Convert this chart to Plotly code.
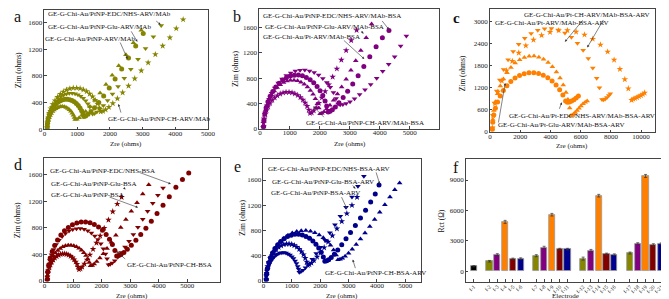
import plotly.graph_objects as go

W, H = 669, 299
FONT = "Liberation Serif"

# ---------------- Panel a (olive) ----------------
A_ARV_X = [80,85,98,116,140,170,206,247,291,340,391,444,498,553,608,661,713,762,807,848,885,916,938,990,1060,1150,1260,1390,1540,1700,1880,2070,2270,2490,2720,2960]
A_ARV_Y = [12,53,94,133,170,205,236,264,288,308,323,334,339,340,335,325,311,291,268,240,209,175,144,150,172,210,265,340,435,545,670,810,955,1120,1300,1490]
A_GLU_X = [81,87,103,127,159,199,246,299,357,420,488,557,629,701,773,842,910,974,1033,1087,1135,1176,1205,1260,1330,1420,1530,1660,1810,1980,2160,2360,2570,2790,3020]
A_GLU_Y = [16,70,124,176,225,271,313,350,382,408,428,442,449,450,443,430,411,386,355,318,277,232,190,197,222,262,322,400,500,620,755,905,1070,1250,1440]
A_EDC_X = [81,89,108,138,178,227,285,351,423,501,584,671,759,848,937,1023,1107,1186,1260,1326,1385,1436,1471,1530,1600,1690,1800,1930,2080,2250,2440,2640,2860,3090,3330,3570]
A_EDC_Y = [19,84,149,211,270,325,375,420,458,489,514,530,539,539,532,516,494,463,426,382,333,278,228,235,258,297,355,432,528,640,765,900,1050,1215,1390,1560]
A_CH_X = [81,90,114,148,195,253,322,399,484,576,674,776,880,985,1090,1191,1290,1383,1470,1548,1618,1677,1719,1790,1870,1970,2090,2230,2390,2570,2760,2960,3170,3390,3615,3835,4030,4240]
A_CH_Y = [22,97,171,242,310,373,431,482,526,562,590,609,619,619,611,593,567,531,489,438,382,319,262,270,292,330,388,460,550,650,760,880,1000,1125,1253,1377,1515,1650]

# ---------------- Panel b (purple) ----------------
B_CH_X = [111,120,142,175,220,275,340,414,495,583,677,773,873,973,1073,1169,1264,1352,1435,1510,1576,1633,1673,1730,1800,1880,1970,2070,2180,2300,2430,2570,2720,2880,3050,3230]
B_CH_Y = [20,90,160,227,290,349,403,451,492,525,552,570,579,579,571,554,530,497,457,410,357,299,245,255,285,335,405,490,590,700,820,950,1090,1240,1400,1560]
B_ARV_X = [121,132,158,197,250,315,392,480,575,679,790,904,1021,1139,1258,1372,1483,1588,1686,1774,1853,1919,1967,2011,2070,2140,2230,2340,2460,2590,2730,2880,3040,3200,3370,3550,3730]
B_ARV_Y = [27,120,213,301,385,464,535,598,653,698,732,756,768,769,758,736,704,660,607,544,474,397,326,238,245,268,310,372,452,548,660,785,925,1075,1240,1440,1660]
B_GLU_X = [121,133,163,207,268,342,431,531,640,759,885,1016,1150,1285,1420,1550,1678,1797,1909,2010,2099,2176,2230,2280,2340,2420,2520,2640,2780,2930,3100,3280,3470,3670,3880,4090,4310]
B_GLU_Y = [30,133,235,332,425,512,591,660,721,770,808,835,848,849,837,813,777,728,670,601,524,438,360,263,275,300,345,410,495,595,710,840,985,1140,1300,1440,1558]
B_EDC_X = [131,146,181,233,304,392,496,613,741,881,1029,1183,1340,1499,1657,1811,1961,2101,2232,2351,2456,2546,2610,2680,2770,2880,3010,3160,3330,3510,3700,3900,4100,4300,4500,4700,4890]
B_EDC_Y = [33,145,257,364,465,560,646,723,789,843,884,913,928,929,916,889,850,797,733,658,573,479,393,380,382,398,428,475,540,615,700,800,910,1020,1140,1310,1469]

# ---------------- Panel c (orange) ----------------
C_EDC_X = [153,181,252,356,500,675,884,1119,1378,1657,1955,2263,2579,2898,3216,3525,3825,4107,4371,4609,4820,5000,5120,5260,5400,5550,5700,5850]
C_EDC_Y = [56,250,442,626,800,963,1112,1243,1357,1450,1522,1571,1597,1598,1576,1530,1462,1371,1261,1131,986,824,790,800,825,860,905,960]
C_GLU_X = [153,182,252,357,502,678,888,1124,1384,1665,1965,2274,2592,2913,3233,3543,3845,4128,4394,4633,4845,5026,5155,5273,5344,5430,5530,5640,5760,5890,6020,6160,6300,6430]
C_GLU_Y = [72,320,566,802,1025,1234,1425,1593,1738,1857,1950,2013,2046,2048,2019,1960,1874,1757,1615,1449,1263,1056,867,633,426,440,470,515,570,630,690,750,790,823]
C_CH_X = [154,195,295,444,649,898,1196,1531,1899,2297,2721,3160,3611,4064,4518,4958,5385,5787,6163,6502,6803,7060,7242,7410,7510,7620,7740,7860,7960]
C_CH_Y = [98,437,773,1095,1400,1686,1946,2176,2374,2537,2663,2750,2794,2797,2758,2677,2559,2400,2206,1980,1725,1442,1184,865,860,880,920,975,1020]
C_ARV_X = [155,207,334,523,783,1100,1477,1903,2370,2876,3414,3972,4543,5120,5696,6253,6797,7307,7784,8214,8597,8922,9154,9367,9480,9600,9730,9860,9990,10120,10235]
C_ARV_Y = [96,429,759,1075,1375,1656,1911,2137,2332,2492,2615,2701,2745,2747,2709,2629,2514,2357,2167,1944,1694,1416,1163,850,880,900,925,950,980,1010,1047]

# ---------------- Panel d (wine) ----------------
D_BSA_X = [91,97,113,136,169,208,255,307,365,428,495,564,635,706,778,847,915,978,1037,1090,1138,1178,1207,1260,1320,1400,1490,1590,1700,1820,1950,2090,2240,2390,2550,2700]
D_BSA_Y = [14,64,113,160,205,247,285,319,348,371,390,403,409,410,404,392,375,351,323,290,253,211,173,185,212,258,320,395,480,575,680,795,920,1045,1160,1263]
D_GLU_X = [91,100,121,153,197,250,314,386,465,550,641,735,831,928,1026,1120,1211,1297,1378,1450,1515,1570,1609,1670,1740,1830,1940,2060,2190,2340,2500,2670,2850,3040,3240,3440,3650]
D_GLU_Y = [19,84,149,211,270,325,375,420,458,489,514,530,539,539,532,516,494,463,426,382,333,278,228,235,255,292,345,410,490,585,690,805,925,1050,1180,1310,1450]
D_CH_X = [101,113,143,187,247,320,408,507,616,733,858,987,1120,1254,1388,1517,1643,1762,1873,1973,2061,2137,2191,2240,2300,2370,2460,2570,2690,2820,2960,3110,3270,3440,3610,3790,3970,4150]
D_CH_Y = [28,123,218,309,395,476,549,614,670,716,751,776,788,789,778,755,722,677,623,559,487,407,334,244,252,270,305,360,430,510,600,700,810,930,1050,1170,1290,1400]
D_EDC_X = [101,115,150,201,271,356,458,573,699,835,980,1131,1285,1440,1596,1746,1893,2030,2159,2275,2378,2466,2528,2600,2680,2780,2900,3040,3200,3370,3550,3740,3940,4150,4370,4600,4830,5050]
D_EDC_Y = [31,139,246,348,445,536,619,692,755,806,846,874,888,889,877,851,813,763,701,629,548,458,376,385,400,430,478,540,615,700,795,900,1015,1140,1270,1410,1530,1625]

# ---------------- Panel e (navy) ----------------
E_GLU_X = [91,97,113,137,171,211,259,313,372,437,505,576,649,722,796,866,936,1001,1061,1116,1165,1206,1236,1263,1320,1390,1480,1590,1720,1860,2010,2170,2340,2520,2710,2910,3120,3330,3540]
E_GLU_Y = [16,70,124,176,225,271,313,350,382,408,428,442,449,450,443,430,411,386,355,318,277,232,190,139,150,172,212,270,345,435,535,645,765,890,1025,1170,1330,1500,1660]
E_BSA_X = [91,99,120,151,194,245,307,377,453,536,624,715,809,903,998,1089,1178,1261,1339,1410,1472,1525,1563,1620,1690,1780,1890,2010,2140,2280,2430,2590,2760,2940,3120,3300]
E_BSA_Y = [21,92,163,231,295,355,410,458,500,535,561,579,589,589,581,564,539,506,465,417,363,304,250,262,285,325,382,450,530,620,720,830,945,1070,1200,1330]
E_EDC_X = [101,113,142,186,245,318,404,502,609,725,848,976,1107,1239,1371,1499,1624,1741,1850,1949,2036,2111,2164,2230,2300,2390,2500,2620,2760,2910,3070,3240,3420,3600,3780,3940,4074]
E_EDC_Y = [26,115,204,289,370,445,514,575,628,670,704,727,739,739,729,707,676,634,583,523,456,381,313,320,338,372,425,492,575,668,770,880,1000,1120,1250,1380,1521]
E_CH_X = [101,116,152,205,278,367,473,592,723,865,1016,1173,1333,1495,1657,1813,1966,2109,2243,2363,2471,2562,2627,2700,2780,2880,3000,3130,3270,3420,3580,3750,3920,4100,4280,4460,4630,4800]
E_CH_Y = [28,125,221,313,400,482,556,622,678,725,761,786,798,799,788,765,731,686,630,566,493,412,338,345,360,392,440,505,580,665,760,865,975,1090,1210,1330,1445,1553]

# ---------------- Panel f (bars) ----------------
F_GROUPS = [["f-1"],
            ["f-2", "f-3", "f-4", "f-5", "f-6"],
            ["f-7", "f-8", "f-9", "f-10", "f-11"],
            ["f-12", "f-13", "f-14", "f-15", "f-16"],
            ["f-17", "f-18", "f-19", "f-20", "f-21"]]
F_RCT = [480, 970, 1620, 4860, 1200, 1230, 1520, 2330, 5570, 2170, 2170,
         1230, 2010, 7450, 1680, 1620, 1780, 2720, 9400, 2590, 2690]
F_ERR = [60, 80, 100, 150, 80, 80, 100, 120, 130, 80, 80,
         150, 130, 130, 90, 80, 100, 80, 150, 110, 90]

OLIVE, PURPLE, ORANGE, WINE, NAVY = "#858500", "#800080", "#FF8000", "#800000", "#00008C"
GROUP_COLORS = [OLIVE, PURPLE, ORANGE, WINE, NAVY]

fig = go.Figure()

def add_series(xs, ys, symbol, color, axis_id, size=5):
    fig.add_trace(go.Scatter(
        x=xs, y=ys, mode="markers",
        marker=dict(symbol=symbol, size=size, color=color, line=dict(width=0)),
        xaxis="x" + axis_id, yaxis="y" + axis_id, showlegend=False,
        hoverinfo="skip"))

# panel a
add_series(A_ARV_X, A_ARV_Y, "triangle-up", OLIVE, "")
add_series(A_GLU_X, A_GLU_Y, "circle", OLIVE, "")
add_series(A_EDC_X, A_EDC_Y, "triangle-down", OLIVE, "")
add_series(A_CH_X, A_CH_Y, "star", OLIVE, "")
# panel b
add_series(B_CH_X, B_CH_Y, "star", PURPLE, "2")
add_series(B_ARV_X, B_ARV_Y, "triangle-up", PURPLE, "2")
add_series(B_GLU_X, B_GLU_Y, "circle", PURPLE, "2")
add_series(B_EDC_X, B_EDC_Y, "triangle-down", PURPLE, "2")
# panel c
add_series(C_EDC_X, C_EDC_Y, "circle", ORANGE, "3")
add_series(C_GLU_X, C_GLU_Y, "triangle-up", ORANGE, "3")
add_series(C_CH_X, C_CH_Y, "triangle-down", ORANGE, "3")
add_series(C_ARV_X, C_ARV_Y, "star", ORANGE, "3")
# panel d
add_series(D_BSA_X, D_BSA_Y, "star", WINE, "4")
add_series(D_GLU_X, D_GLU_Y, "triangle-up", WINE, "4")
add_series(D_CH_X, D_CH_Y, "triangle-down", WINE, "4")
add_series(D_EDC_X, D_EDC_Y, "circle", WINE, "4")
# panel e
add_series(E_GLU_X, E_GLU_Y, "triangle-down", NAVY, "5")
add_series(E_BSA_X, E_BSA_Y, "star", NAVY, "5")
add_series(E_EDC_X, E_EDC_Y, "circle", NAVY, "5")
add_series(E_CH_X, E_CH_Y, "triangle-up", NAVY, "5")

# panel f bars
pos, labels, colors = [], [], []
slot = 0
for gi, grp in enumerate(F_GROUPS):
    for k, lab in enumerate(grp):
        pos.append(slot)
        labels.append(lab)
        colors.append("#000000" if gi == 0 else GROUP_COLORS[k])
        slot += 1
    slot += 1
fig.add_trace(go.Bar(
    x=pos, y=F_RCT, width=0.8,
    marker=dict(color=colors, line=dict(color="#9a9a9a", width=0.8)),
    error_y=dict(type="data", array=F_ERR, visible=True, color="#333333",
                 thickness=0.7, width=1.5),
    xaxis="x6", yaxis="y6", showlegend=False, hoverinfo="skip"))

tickfont = dict(family=FONT, size=7, color="#222")

def axis(domain, rng, tickvals, anchor, ticktext=None, tickangle=None, tfont=None, standoff=0):
    d = dict(domain=domain, range=rng, tickvals=tickvals, anchor=anchor,
             showline=True, linecolor="#444", linewidth=0.8, mirror=True,
             ticks="inside", ticklen=2.5, tickwidth=0.7, tickcolor="#444",
             tickfont=tfont or tickfont, showgrid=False, zeroline=False,
             tickformat="d", ticklabelstandoff=standoff)
    if ticktext is not None:
        d["ticktext"] = ticktext
        d.pop("tickformat")
    if tickangle is not None:
        d["tickangle"] = tickangle
    return d

def dom_x(p0, p1):
    return [p0 / W, p1 / W]

def dom_y(ptop, pbot):
    return [1 - pbot / H, 1 - ptop / H]

T5000 = [0, 1000, 2000, 3000, 4000, 5000]
T1600 = [0, 400, 800, 1200, 1600]
SO = -3

fig.update_layout(
    width=W, height=H, margin=dict(l=0, r=0, t=0, b=0),
    paper_bgcolor="white", plot_bgcolor="white",
    font=dict(family=FONT, color="#222"),
    bargap=0,
    xaxis=axis(dom_x(35, 201), [0, 5000], T5000, "y", standoff=SO),
    yaxis=axis(dom_y(2, 123), [-4, 1794], T1600, "x"),
    xaxis2=axis(dom_x(253, 436), [-23, 5997], T5000, "y2", standoff=SO),
    yaxis2=axis(dom_y(1, 122.5), [-3, 1897], T1600, "x2"),
    xaxis3=axis(dom_x(487.3, 654.5), [0, 10900], [0, 2000, 4000, 6000, 8000, 10000], "y3", standoff=SO),
    yaxis3=axis(dom_y(1, 126), [-27, 3331], [0, 600, 1200, 1800, 2400, 3000], "x3"),
    xaxis4=axis(dom_x(35, 213), [0, 6138], T5000, "y4", standoff=SO),
    yaxis4=axis(dom_y(151.7, 277.3), [-9, 1857], T1600, "x4"),
    xaxis5=axis(dom_x(257.3, 417.3), [0, 5556], T5000, "y5", standoff=SO),
    yaxis5=axis(dom_y(153.3, 277.3), [-9, 1929], T1600, "x5"),
    xaxis6=axis(dom_x(463, 667), [-1.0, 24.75], pos, "y6", ticktext=labels,
                tickangle=-45, tfont=dict(family=FONT, size=5.5, color="#222"), standoff=-1),
    yaxis6=axis(dom_y(153, 277.3), [-1040, 11080], [0, 3000, 6000, 9000], "x6"),
)

ann = []

def text(t, px, py, size=7, xanchor="left", angle=0, bold=False):
    ann.append(dict(text=("<b>%s</b>" % t) if bold else t,
                    x=px / W, y=1 - py / H, xref="paper", yref="paper",
                    xanchor=xanchor, yanchor="middle", showarrow=False,
                    textangle=angle, font=dict(family=FONT, size=size, color="#111")))

def arrow(axis_id, x, y, ax, ay):
    ann.append(dict(text="", x=x, y=y, xref="x" + axis_id, yref="y" + axis_id,
                    ax=ax, ay=ay, axref="pixel", ayref="pixel", showarrow=True,
                    arrowhead=2, arrowsize=0.8, arrowwidth=0.6, arrowcolor="#333"))

# panel letters
text("a", 2, 9, size=16)
text("b", 224, 9, size=16)
text("c", 448, 10, size=15, bold=True)
text("d", 2, 159, size=16)
text("e", 225, 161, size=16)
text("f", 448, 162, size=16)

# axis titles
for (px, py) in [(8, 63), (229, 62), (459, 66), (7, 215), (236, 212)]:
    text("Zim (ohms)", px, py, size=7.5, xanchor="center", angle=-90)
for (px, py) in [(118, 137.5), (345, 137.5), (571, 140), (124, 291.5), (337, 291.5)]:
    text("Zre (ohms)", px, py, size=7, xanchor="center")
text("Rct (\u03a9)", 438, 216, size=7.5, xanchor="center", angle=-90)
text("Electrode", 564, 292, size=7, xanchor="center")

# panel a labels
text("GE-G-Chi-Au/PtNP-EDC/NHS-ARV/MAb", 37, 6)
text("GE-G-Chi-Au/PtNP-Glu-ARV/MAb", 37, 19)
text("GE-G-Chi-Au/PtNP-ARV/MAb", 34, 31)
text("GE-G-Chi-Au/PtNP-CH-ARV/MAb", 97, 112)
arrow("", 3554, 1571, -6, -5)
arrow("", 2840, 1314, -7, -12)
arrow("", 2540, 1055, -8, -18)
arrow("", 2260, 377, 3, 10)

# panel b labels
text("GE-G-Chi-Au/PtNP-EDC/NHS-ARV/MAb-BSA", 255, 8.3)
text("GE-G-Chi-Au/PtNP-Glu-ARV/MAb-BSA", 257, 19.3)
text("GE-G-Chi-Au/Pt-ARV/MAb-BSA", 255, 29)
text("GE-G-Chi-Au/PtNP-CH-ARV/MAb-BSA", 298, 116.7)
arrow("2", 4309, 1573, -8, -10)
arrow("2", 3464, 1506, -4, -4)
arrow("2", 3487, 1104, -22, -20)
arrow("2", 1786, 349, 12, 12)

# panel c labels
text("GE-G-Chi-Au/Pt-CH-ARV/MAb-BSA-ARV", 520, 7.3)
text("GE-G-Chi-Au/Pt-ARV/MAb-BSA-ARV", 490, 15.7)
text("GE-G-Chi-Au/Pt-EDC/NHS-ARV/MAb-BSA-ARV", 505, 109)
text("GE-G-Chi-Au/Pt-Glu-ARV/MAb-BSA-ARV", 493, 118.3)
arrow("3", 4955, 2436, 19, -23)
arrow("3", 6435, 2283, 17, -29)
arrow("3", 4750, 790, -3, 8)
arrow("3", 1004, 1316, -7, 41)

# panel d labels
text("GE-G-Chi-Au/PtNP-EDC/NHS-BSA", 39, 165.7)
text("GE-G-Chi-Au/PtNP-Glu-BSA", 40, 178.3)
text("GE-G-Chi-Au/PtNP-BSA", 40, 189.3)
text("GE-G-Chi-Au/PtNP-CH-BSA", 117, 260)
arrow("4", 4424, 1462, -33, -12)
arrow("4", 2838, 1378, -3, -3)
arrow("4", 3276, 1106, -30, -11)
arrow("4", 2528, 446, 10, 9)

# panel e labels
text("GE-G-Chi-Au/PtNP-EDC/NHS-BSA-ARV", 260, 163.3)
text("GE-G-Chi-Au/PtNP-Glu-BSA-ARV", 264, 176)
text("GE-G-Chi-Au/PtNP-BSA-ARV", 263, 187.3)
text("GE-G-Chi-Au/PtNP-CH-BSA-ARV", 318, 268.3)
arrow("5", 4097, 1538, -4, -13)
arrow("5", 3243, 1460, -4, -5)
arrow("5", 2941, 1147, -6, -13)
arrow("5", 3149, 339, 3, 10)

fig.update_layout(annotations=ann)
fig.write_html("out.html")
